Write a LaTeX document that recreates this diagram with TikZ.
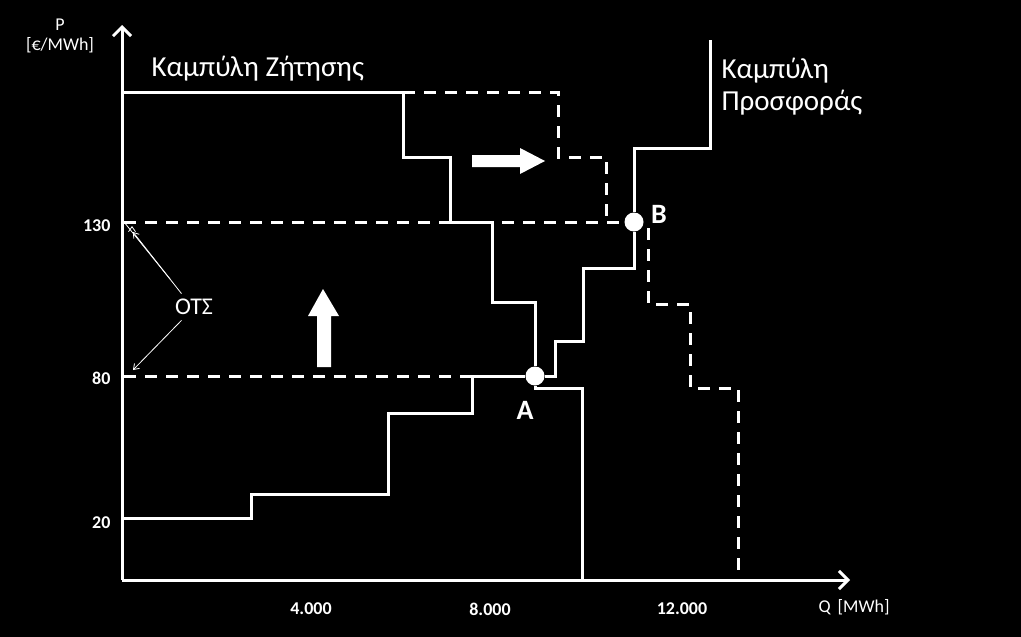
\documentclass[tikz,border=0pt]{standalone}
\usepackage{fontspec}
\setmainfont{Carlito}
\usetikzlibrary{arrows.meta}
\begin{document}
\begin{tikzpicture}[x=1pt,y=-1pt,
  curve/.style={white,line width=3pt},
  dcurve/.style={white,line width=3pt,dash pattern=on 12pt off 9pt},
  lbl/.style={text=white,font=\fontsize{29}{32}\selectfont,align=left},
  tick/.style={text=white,font=\bfseries\fontsize{18}{20}\selectfont},
  unit/.style={text=white,font=\fontsize{18}{20}\selectfont,align=center},
  dot/.style={circle,fill=white,inner sep=0pt,minimum size=19pt}]
\fill[black] (0,0) rectangle (1021,637);
\useasboundingbox (0,0) rectangle (1021,637);
\coordinate (O) at (122,580);
\coordinate (Ytop) at (122,25);
\coordinate (Xend) at (850,580);
\draw[white,line width=3pt,-{Straight Barb[length=9pt,width=18pt]}] (O) -- (Ytop);
\draw[white,line width=3pt,-{Straight Barb[length=9pt,width=18pt]}] (O) -- (Xend);
% dashed price lines
\node[dot] (B) at (634,222) {};
\node[dot] (A) at (535,376) {};
\coordinate (y130) at (124,222);
\coordinate (y80) at (124,376);
\draw[dcurve] (y130) -- (B);
\draw[dcurve] (y80) -- (A);
% demand
\draw[curve] (122,92) -- (403,92) -- (403,157) -- (450,157) -- (450,222) -- (492,222) -- (492,302) -- (535,302) -- (A);
\draw[curve] (A) -- (535,388) -- (582,388) -- (582,580);
% shifted demand
\draw[dcurve] (403,92) -- (558,92) -- (558,157) -- (606,157) -- (606,222);
\draw[dcurve] (648,228) -- (648,304) -- (690,304) -- (690,388) -- (738,388) -- (738,580);
% supply
\draw[curve] (122,518) -- (251,518) -- (251,494) -- (388,494) -- (388,413) -- (472,413) -- (472,376) -- (A);
\draw[curve] (A) -- (555,376) -- (555,341) -- (583,341) -- (583,268) -- (634,268) -- (B);
\draw[curve] (B) -- (634,148) -- (710,148) -- (710,40);
% block arrows
\fill[white] (472,155) -- (520,155) -- (520,148) -- (545,161) -- (520,174) -- (520,167) -- (472,167) -- cycle;
\fill[white] (317,367) -- (317,316) -- (308,316) -- (323,289) -- (339,316) -- (331,316) -- (331,367) -- cycle;
% labels
\node[lbl,anchor=base west] (dem) at (148,76) {Καμπύλη Ζήτησης};
\node[lbl,anchor=north west] (sup) at (718,55) {Καμπύλη\\Προσφοράς};
\node[unit] (P) at (60,36) {P\\{[€/MWh]}};
\node[unit,anchor=west] (Q) at (815,607) {Q\, [MWh]};
\node[tick,anchor=east] (t130) at (114,226) {130};
\node[tick,anchor=east] (t80) at (114,378) {80};
\node[tick,anchor=east] (t20) at (114,523) {20};
\node[tick] (x4) at (311,609) {4.000};
\node[tick] (x8) at (490,609) {8.000};
\node[tick] (x12) at (682,609) {12.000};
\node[text=white,font=\bfseries\fontsize{28}{30}\selectfont] (Al) at (525,410) {A};
\node[text=white,font=\bfseries\fontsize{28}{30}\selectfont] (Bl) at (659,214) {B};
\node[text=white,font=\fontsize{24}{26}\selectfont] (ots) at (194,307) {ΟΤΣ};
\draw[white,line width=0.8pt,-{Straight Barb[length=5pt,width=7pt]}] (170,279) -- (y130.south east)++(8,4);
\draw[white,line width=0.8pt,-{Straight Barb[length=5pt,width=7pt]}] (ots.north west)++(10,-2) -- (133,232);
\draw[white,line width=0.8pt,-{Straight Barb[length=5pt,width=7pt]}] (ots.south west)++(10,2) -- (133,370);
\end{tikzpicture}
\end{document}
